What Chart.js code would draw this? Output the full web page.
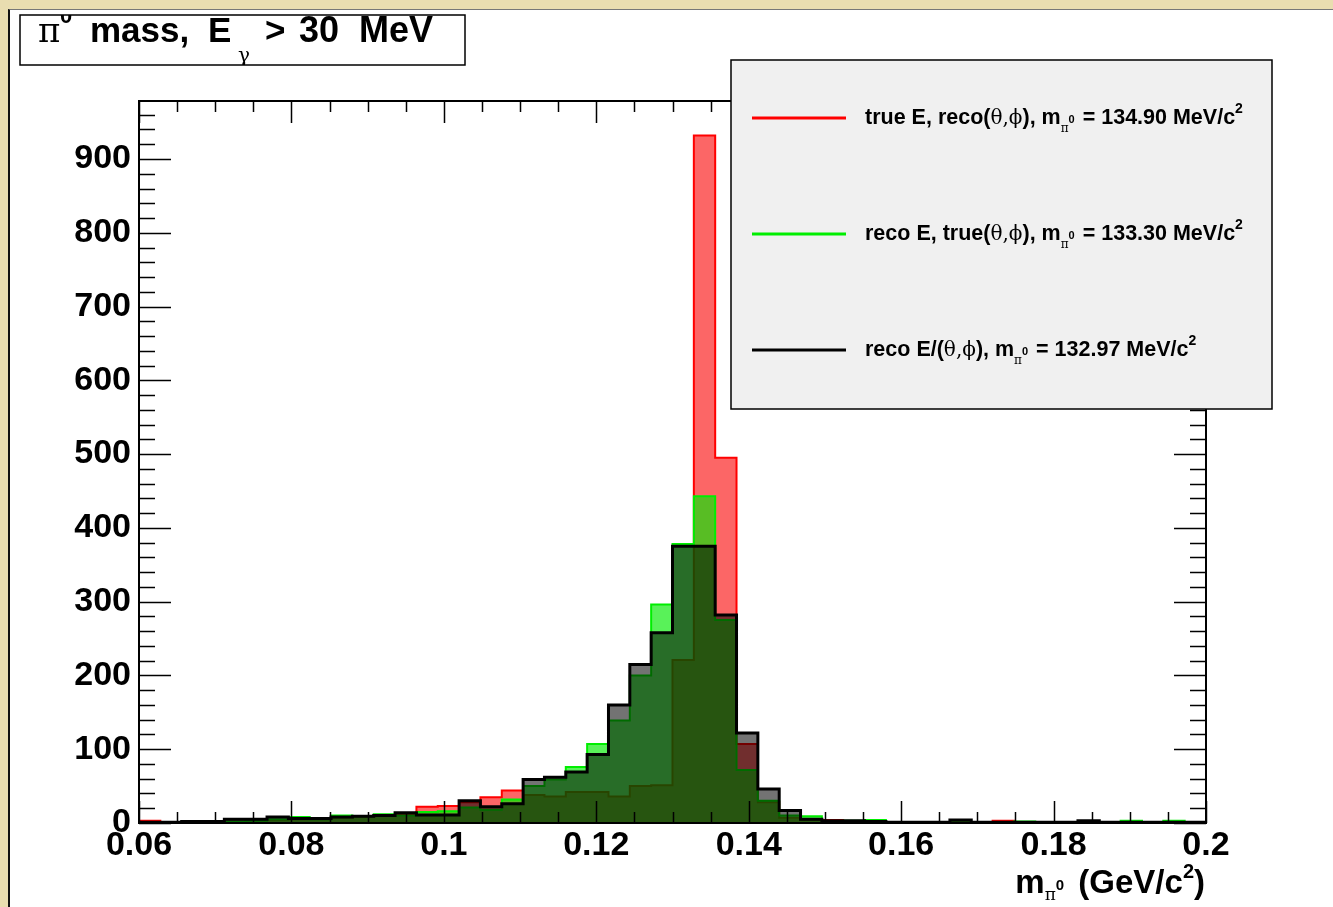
<!DOCTYPE html>
<html>
<head>
<meta charset="utf-8">
<script src="https://cdn.jsdelivr.net/npm/chart.js@4.4.0/dist/chart.umd.min.js"></script>
<style>
  html, body { margin: 0; padding: 0; }
  body { width: 1333px; height: 907px; background: #e9ddb0; overflow: hidden; position: relative; }
  #wrap { position: absolute; left: 8px; top: 9px; border-left: 2px solid #111; border-top: 1px solid #777; background: #fff; }
  canvas { display: block; }
</style>
</head>
<body>
<div id="wrap"><canvas id="massChart" width="1323" height="897"></canvas></div>
<script>
// histogram binning (50 bins from 0.06 to 0.2 GeV/c^2)
const xMin = 0.06;
const xMax = 0.2;
const nBins = 50;
const yMax = 978.6;

// bin contents
const trueEreco = [3, 1, 1, 1, 2, 3, 4, 5, 5, 7,
                   8, 10, 12, 22, 23, 28, 35, 44, 38, 36,
                   42, 42, 36, 50, 51, 221, 932, 495, 107, 28,
                   7, 4, 4, 1, 0, 0, 0, 0, 1, 0,
                   3, 1, 0, 0, 1, 0, 1, 0, 1, 0];
const recoEtrue = [0, 0, 0, 1, 2, 3, 5, 8, 5, 10,
                   9, 12, 10, 15, 16, 21, 18, 32, 50, 59,
                   76, 107, 139, 200, 296, 378, 443, 275, 72, 30,
                   10, 9, 2, 3, 4, 0, 0, 0, 1, 0,
                   1, 2, 1, 0, 1, 0, 3, 0, 3, 1];
const recoAll = [1, 1, 2, 2, 5, 5, 8, 6, 6, 8,
                 9, 10, 14, 11, 11, 30, 22, 26, 59, 62,
                 69, 93, 160, 215, 258, 375, 375, 282, 122, 46,
                 17, 5, 3, 3, 2, 1, 1, 1, 4, 1,
                 1, 1, 1, 1, 3, 1, 1, 1, 1, 1];

const xTickLabels = ['0.06', '0.08', '0.1', '0.12', '0.14', '0.16', '0.18', '0.2'];

// turn bin contents into step points (left edge of each bin + closing edge)
function histPoints(vals) {
    const w = (xMax - xMin) / nBins;
    const pts = vals.map((v, i) => ({ x: xMin + i * w, y: v }));
    pts.push({ x: xMax, y: vals[vals.length - 1] });
    return pts;
}

// draws a run of text pieces with different fonts / offsets
function richText(ctx, x, y, segs, align) {
    let total = 0;
    segs.forEach(s => { ctx.font = s.f; total += ctx.measureText(s.t).width + (s.gap || 0); });
    let cx = align === 'right' ? x - total : x;
    segs.forEach(s => {
        ctx.font = s.f;
        if (s.x !== undefined) cx = s.x;
        ctx.fillText(s.t, cx, y + (s.dy || 0));
        cx += ctx.measureText(s.t).width + (s.gap || 0);
    });
}

const fb = s => 'bold ' + s + 'px "Liberation Sans", Arial, sans-serif';
const fr = s => s + 'px "DejaVu Serif", "Liberation Serif", serif';

// ticks pointing inwards on all four sides, plus the frame
const inwardTicks = {
    id: 'inwardTicks',
    afterDatasetsDraw(chart) {
        const { ctx, chartArea: a, scales: { x, y } } = chart;
        ctx.save();
        ctx.strokeStyle = '#000';
        ctx.lineWidth = 1.5;
        ctx.beginPath();
        for (let v = 0; v <= yMax; v += 20) {
            const py = Math.round(y.getPixelForValue(v)) + 0.5;
            const len = v % 100 === 0 ? 32 : 16;
            ctx.moveTo(a.left, py); ctx.lineTo(a.left + len, py);
            ctx.moveTo(a.right, py); ctx.lineTo(a.right - len, py);
        }
        for (let i = 0; i <= 28; i++) {
            const px = Math.round(x.getPixelForValue(xMin + i * 0.005)) + 0.5;
            const len = i % 4 === 0 ? 22 : 11;
            ctx.moveTo(px, a.bottom); ctx.lineTo(px, a.bottom - len);
            ctx.moveTo(px, a.top); ctx.lineTo(px, a.top + len);
        }
        ctx.stroke();
        ctx.lineWidth = 2;
        ctx.strokeRect(a.left, a.top, a.right - a.left, a.bottom - a.top);
        ctx.restore();
    }
};

// title box, legend box and x axis title
const decorations = {
    id: 'decorations',
    afterDraw(chart) {
        const ctx = chart.ctx;
        ctx.save();
        ctx.fillStyle = '#000';
        ctx.textBaseline = 'alphabetic';

        // title
        ctx.save();
        ctx.fillStyle = '#fff';
        ctx.fillRect(10, 5, 445, 50);
        ctx.beginPath(); ctx.rect(10, 5, 445, 50); ctx.clip();
        ctx.fillStyle = '#000';
        richText(ctx, 28, 32, [
            { t: 'π', f: fr(34) },
            { t: '0', f: fb(22), dy: -19, x: 50 },
            { t: 'mass,', f: fb(35), x: 80 },
            { t: 'E', f: fb(35), x: 198 },
            { t: 'γ', f: fr(20), dy: 20, x: 228 },
            { t: '>', f: fb(35), x: 255 },
            { t: '30', f: fb(36), x: 289 },
            { t: 'MeV', f: fb(36), x: 349 }
        ]);
        ctx.restore();
        ctx.lineWidth = 1.5;
        ctx.strokeStyle = '#000';
        ctx.strokeRect(10, 5, 445, 50);

        // legend
        ctx.fillStyle = '#f0f0f0';
        ctx.fillRect(721, 50, 541, 349);
        ctx.lineWidth = 1.5;
        ctx.strokeRect(721, 50, 541, 349);
        const rows = [
            { c: '#ff0000', y: 108, pre: 'true E, reco(', val: ' = 134.90 MeV/c' },
            { c: '#00ee00', y: 224, pre: 'reco E, true(', val: ' = 133.30 MeV/c' },
            { c: '#000000', y: 340, pre: 'reco E/(', val: ' = 132.97 MeV/c' }
        ];
        rows.forEach(r => {
            ctx.strokeStyle = r.c;
            ctx.lineWidth = 3;
            ctx.beginPath(); ctx.moveTo(742, r.y); ctx.lineTo(836, r.y); ctx.stroke();
            ctx.fillStyle = '#000';
            richText(ctx, 855, r.y + 6, [
                { t: r.pre, f: fb(21.5) },
                { t: 'θ,ϕ', f: fr(20) },
                { t: '), m', f: fb(21.5) },
                { t: 'π', f: fr(12), dy: 8 },
                { t: '0', f: fb(11), dy: -1, gap: 2 },
                { t: r.val, f: fb(21.5) },
                { t: '2', f: fb(14), dy: -11 }
            ]);
        });

        // x axis title
        ctx.fillStyle = '#000';
        richText(ctx, 1195, 883, [
            { t: 'm', f: fb(33) },
            { t: 'π', f: fr(17), dy: 7 },
            { t: '0', f: fb(15), dy: -3, gap: 5 },
            { t: ' (GeV/c', f: fb(33) },
            { t: '2', f: fb(20), dy: -15 },
            { t: ')', f: fb(33) }
        ], 'right');
        ctx.restore();
    }
};

const ctx = document.getElementById('massChart').getContext('2d');

function histSet(label, vals, color, fillColor, width, order) {
    return {
        label: label,
        data: histPoints(vals),
        borderColor: color,
        borderWidth: width,
        backgroundColor: fillColor,
        fill: 'origin',
        stepped: true,
        pointRadius: 0,
        tension: 0,
        order: order
    };
}

const tickFont = { family: '"Liberation Sans", Arial, sans-serif', size: 34, weight: 'bold' };

new Chart(ctx, {
    type: 'line',
    data: {
        datasets: [
            histSet('true E, reco', trueEreco, '#ff0000', 'rgba(250,0,0,0.6)', 2, 3),
            histSet('reco E, true', recoEtrue, '#00ee00', 'rgba(0,235,0,0.65)', 2, 2),
            histSet('reco E', recoAll, '#000000', 'rgba(0,0,0,0.55)', 3, 1)
        ]
    },
    options: {
        responsive: false,
        devicePixelRatio: 1,
        animation: false,
        layout: { padding: { top: 91, right: 127, bottom: 0, left: 0 } },
        plugins: {
            legend: { display: false },
            tooltip: { enabled: false },
            title: { display: false }
        },
        scales: {
            x: {
                type: 'linear',
                min: xMin,
                max: xMax,
                grid: { display: false, drawTicks: false },
                border: { display: false },
                afterFit: s => { s.height = 84; },
                ticks: {
                    stepSize: 0.02,
                    autoSkip: false,
                    maxRotation: 0,
                    padding: 2,
                    color: '#000',
                    font: tickFont,
                    callback: (v, i) => xTickLabels[i]
                }
            },
            y: {
                min: 0,
                max: yMax,
                grid: { display: false, drawTicks: false },
                border: { display: false },
                afterFit: s => { s.width = 129; },
                ticks: {
                    stepSize: 100,
                    includeBounds: false,
                    padding: 8,
                    color: '#000',
                    font: tickFont
                }
            }
        }
    },
    plugins: [inwardTicks, decorations]
});
</script>
</body>
</html>
